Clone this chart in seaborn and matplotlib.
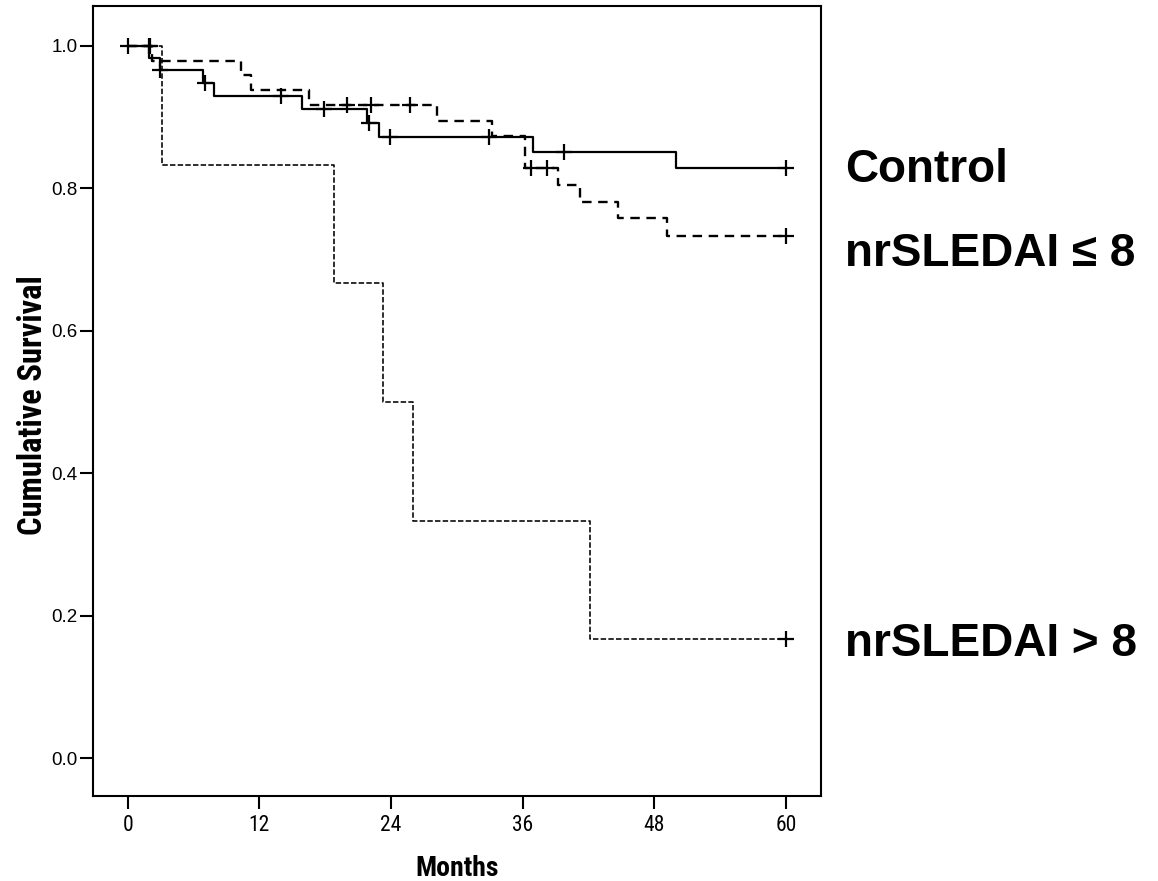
import numpy as np
import matplotlib
matplotlib.use("Agg")
import matplotlib.pyplot as plt
from matplotlib import font_manager
import seaborn as sns

# Kaplan-Meier step data: time (months) of each step and survival after it
control_t = [0, 1.95, 2.9, 6.9, 7.9, 15.9, 21.8, 22.9, 36.9, 50.0, 60]
control_s = [1.0, 0.983, 0.966, 0.948, 0.929, 0.911, 0.892, 0.872, 0.851, 0.829, 0.829]
control_cens = [0, 1.9, 2.9, 7.0, 14.0, 17.9, 22.0, 23.9, 32.9, 39.8, 60]

low_t = [0, 2.2, 10.3, 11.2, 16.5, 28.2, 33.2, 36.2, 39.2, 41.2, 44.7, 49.2, 60]
low_s = [1.0, 0.979, 0.959, 0.938, 0.917, 0.895, 0.874, 0.829, 0.805, 0.781, 0.758, 0.733, 0.733]
low_cens = [2.0, 20.0, 22.2, 25.7, 36.8, 38.2, 60]

high_t = [0, 3.1, 18.8, 23.3, 26.0, 42.1, 60]
high_s = [1.0, 0.833, 0.667, 0.5, 0.333, 0.167, 0.167]
high_cens = [60]

x_ticks = [0, 12, 24, 36, 48, 60]
y_ticks = [0.0, 0.2, 0.4, 0.6, 0.8, 1.0]
group_labels = ["Control", "nrSLEDAI \u2264 8", "nrSLEDAI > 8"]

sns.set_theme(style="white")
plt.rcParams["font.family"] = ["Liberation Sans", "DejaVu Sans"]

# Prefer a condensed face for the axis titles and month labels when one exists
_names = {f.name for f in font_manager.fontManager.ttflist}
_narrow = [n for n in ("Liberation Sans Narrow", "DejaVu Sans Condensed",
                       "Roboto Condensed", "Open Sans Condensed") if n in _names]
if _narrow:
    NARROW = dict(family=[_narrow[0], "Liberation Sans"])
else:
    NARROW = dict(family=["DejaVu Sans", "Liberation Sans"], stretch="condensed")


def level_at(times, surv, when):
    """Survival level of a step curve at the given censoring times."""
    idx = np.searchsorted(times, when, side="right") - 1
    return [surv[i] for i in idx]


W, H = 1158, 881
fig = plt.figure(figsize=(W / 100, H / 100), dpi=100)
ax = fig.add_axes([92.7 / W, 85 / H, (821 - 92.7) / W, 790 / H])

curves = [
    (control_t, control_s, control_cens, "-", 1.6),
    (low_t, low_s, low_cens, (0, (4.0, 2.8)), 1.7),
    (high_t, high_s, high_cens, (0, (3.4, 1.4)), 1.15),
]
for t, s, cens, ls, lw in curves:
    sns.lineplot(x=t, y=s, drawstyle="steps-post", estimator=None, sort=False,
                 color="black", linewidth=lw, linestyle=ls, ax=ax)
    sns.scatterplot(x=cens, y=level_at(t, s, cens), marker="+", s=130,
                    color="black", linewidth=1.6, ax=ax, zorder=3)

ax.set_xlim(-3.2, 63.2)
ax.set_ylim(-0.053, 1.056)
ax.set_xticks(x_ticks)
ax.set_xticklabels([str(v) for v in x_ticks], fontsize=15.5, **NARROW)
ax.set_yticks(y_ticks)
ax.set_yticklabels([f"{v:.1f}" for v in y_ticks], fontsize=13.5)

for sp in ax.spines.values():
    sp.set_color("black")
    sp.set_linewidth(1.5)
ax.tick_params(axis="both", which="major", direction="out", length=9.4,
               width=1.5, color="black", labelcolor="black")
ax.tick_params(axis="x", bottom=True, top=False, pad=4)
ax.tick_params(axis="y", left=True, right=False, pad=1.5)

ax.set_xlabel("Months", fontweight="bold", fontsize=20, color="black", **NARROW)
ax.set_ylabel("Cumulative Survival", fontweight="bold", fontsize=23.5,
              color="black", **NARROW)
ax.xaxis.set_label_coords(0.5, -0.075)
ax.yaxis.set_label_coords(-0.060, 0.495)

for label, base in zip(group_labels, [182, 266, 656]):
    fig.text(845 / W, 1 - base / H, label, fontsize=33, fontweight="bold",
             ha="left", va="baseline", color="black")

fig.savefig("out.png", dpi=100, facecolor="white")
